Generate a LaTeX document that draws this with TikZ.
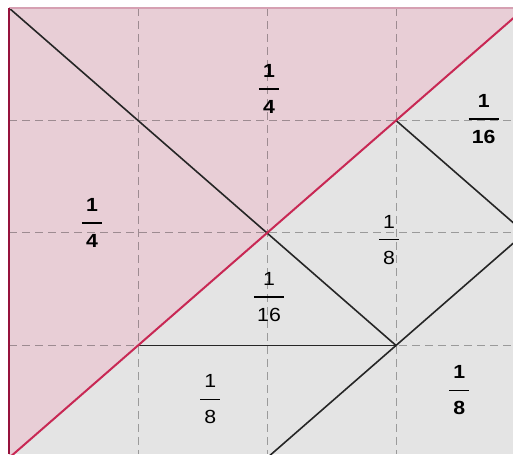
\documentclass[tikz,border=0pt]{standalone}
\usepackage{fontspec}
\setmainfont{Liberation Sans}
\definecolor{foldPink}{RGB}{232,206,214}
\definecolor{paperGray}{RGB}{228,228,228}
\definecolor{creaseRed}{RGB}{200,40,84}
\definecolor{edgeRed}{RGB}{150,18,60}
\definecolor{topPink}{RGB}{214,160,178}
\usepackage{tikz}
\usetikzlibrary{calc}

\newcommand{\frc}[3]{#1\\\rule[0.3em]{#3}{1.7pt}\\#2}

\begin{document}
\begin{tikzpicture}[x=129pt, y=-112.5pt,
        frac/.style={font=\fontsize{19}{18}\selectfont, align=center,
          inner sep=0pt, xscale=1.12},
        boldfrac/.style={frac, font=\fontsize{19}{18}\selectfont\bfseries},
        gridline/.style={black, opacity=0.32, line width=1pt,
          dash pattern=on 8pt off 5pt},
        fold/.style={black!85, line width=1.6pt},
        crease/.style={creaseRed, line width=2pt}
      ]
        \useasboundingbox (-0.07,-0.071) rectangle (3.907,3.965);

        % corners of the sheet
        \coordinate (o) at (0,0);
        \coordinate (frameEnd) at (3.907,3.965);
        \coordinate (p40) at (4,0);
        \coordinate (p04) at (0,4);
        \coordinate (p31) at (3,1);
        \coordinate (p42) at (4,2);
        \coordinate (p33) at (3,3);
        \coordinate (p24) at (2,4);
        \coordinate (p13) at (1,3);

        \begin{scope}
          \clip (o) rectangle (frameEnd);
          \fill[paperGray] (o) rectangle (frameEnd);
          \fill[foldPink] (o) -- (p40) -- (p04) -- cycle;

          % Grid
          \foreach \k in {1,2,3} {
            \draw[gridline] (\k,0) -- (\k,3.965);
            \draw[gridline] (0,\k) -- (3.907,\k);
          }

          % Folds
          \draw[fold] (o) -- (p33);
          \draw[fold] (p31) -- (p42);
          \draw[fold] (p33) -- (p42);
          \draw[fold] (p33) -- (p24);
          \draw[fold] (p13) -- (p33);
          \draw[crease] (p04) -- (p40);
        \end{scope}

        % Border
        \draw[topPink, line width=1.2pt] (o) -- (3.907,0);
        \draw[edgeRed, line width=2pt] (o) -- (0,3.965);

        % Areas
        \node[boldfrac] (qTop) at (2.016,0.72) {\frc{1}{4}{18pt}};
        \node[boldfrac] (sRight) at (3.68,0.99) {\frc{1}{16}{27pt}};
        \node[boldfrac] (qLeft) at (0.643,1.91) {\frc{1}{4}{18pt}};
        \node[frac] (eMid) at (2.946,2.06) {\frc{1}{8}{18pt}};
        \node[frac] (sMid) at (2.016,2.57) {\frc{1}{16}{27pt}};
        \node[frac] (eLeft) at (1.56,3.48) {\frc{1}{8}{18pt}};
        \node[boldfrac] (eRight) at (3.49,3.40) {\frc{1}{8}{18pt}};
      \end{tikzpicture}
\end{document}
